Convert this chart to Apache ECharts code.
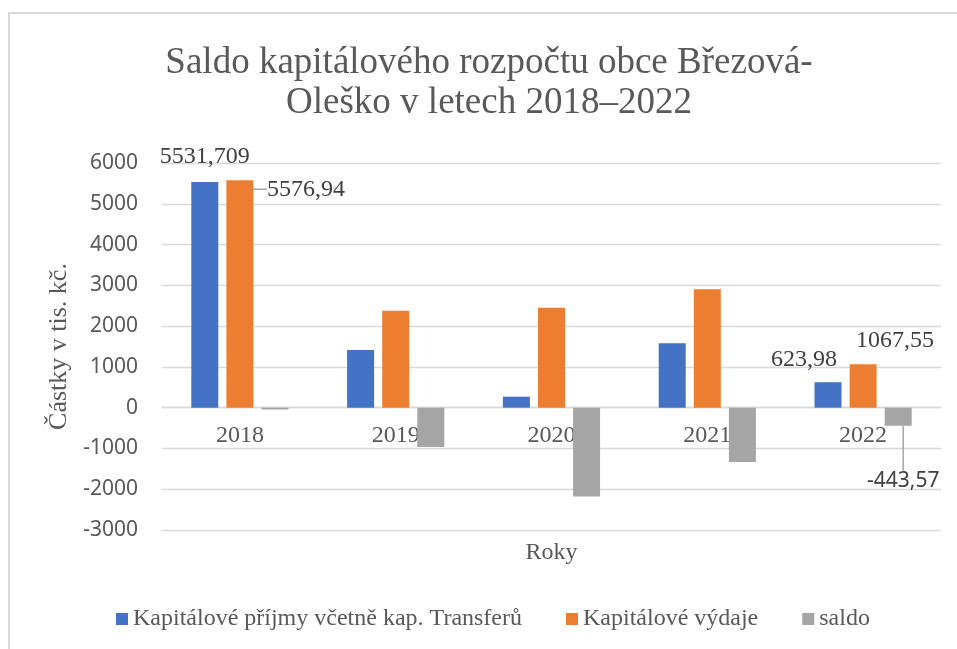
<!DOCTYPE html>
<html>
<head>
<meta charset="utf-8">
<script src="https://cdn.jsdelivr.net/npm/echarts@6/dist/echarts.min.js"></script>
<style>
  html, body { margin: 0; padding: 0; background: #fff; }
  #chart { width: 957px; height: 649px; }
</style>
</head>
<body>
<div id="chart"></div>
<script>
// data (tis. Kč)
const years = ['2018', '2019', '2020', '2021', '2022']
const prijmy = [5531.709, 1414, 270, 1578, 623.98]
const vydaje = [5576.94, 2378, 2451, 2905, 1067.55]
const saldo = [-45.23, -964, -2181, -1330, -443.57]
const yTicks = { min: -3000, max: 6000, step: 1000 }

const serif = 'Liberation Serif'
const sans = 'Noto Sans'
const grey = '#595959'

const gridTop = 163
const gridBottom = 119
const plotHeight = 649 - gridTop - gridBottom
// category axis sits on the zero line (onZero does not kick in here, so shift it)
const zeroOffset = -((0 - yTicks.min) / (yTicks.max - yTicks.min)) * plotHeight

const fmt = (p) => String(p.value).replace('.', ',')

const labelBase = {
  show: true,
  fontFamily: serif,
  fontSize: 24,
  color: '#404040',
  formatter: fmt,
}
const leader = { show: true, lineStyle: { color: '#A6A6A6', width: 1.5 } }

// labels only on some bars, like in the original
const prijmyData = prijmy.map((v, i) => {
  if (i === 0) return { value: v, label: { ...labelBase, position: 'top', offset: [0, -8] } }
  if (i === 4) return { value: v, label: { ...labelBase, position: 'top', offset: [-24, -6] } }
  return v
})
const vydajeData = vydaje.map((v, i) => {
  if (i === 0) return { value: v, label: { ...labelBase, position: 'top' }, labelLine: leader }
  if (i === 4) return { value: v, label: { ...labelBase, position: 'top' } }
  return v
})
const saldoData = saldo.map((v, i) => {
  if (i === 4) {
    return {
      value: v,
      label: { ...labelBase, fontFamily: sans, fontSize: 21, position: 'bottom' },
      labelLine: leader,
    }
  }
  return v
})

// label shifts per data index
const moveLabels = (moves) => (params) => moves[params.dataIndex] || {}

const chart = echarts.init(document.getElementById('chart'))

chart.setOption({
  animation: false,
  color: ['#4472C4', '#ED7D31', '#A5A5A5'],
  title: {
    text: 'Saldo kapitálového rozpočtu obce Březová-\nOleško v letech 2018–2022',
    left: 489,
    top: 43,
    padding: 0,
    textAlign: 'center',
    textStyle: {
      fontFamily: serif,
      fontSize: 37,
      fontWeight: 'normal',
      lineHeight: 40,
      color: grey,
    },
  },
  legend: {
    left: 116,
    top: 607,
    padding: 0,
    icon: 'rect',
    itemWidth: 12,
    itemHeight: 12,
    itemGap: 44,
    textStyle: { fontFamily: serif, fontSize: 24, color: grey },
  },
  grid: {
    left: 162,
    right: 16,
    top: gridTop,
    bottom: gridBottom,
    outerBoundsMode: 'none',
    containLabel: false,
  },
  xAxis: {
    type: 'category',
    data: years,
    offset: zeroOffset,
    name: 'Roky',
    nameLocation: 'middle',
    nameGap: 133,
    nameTextStyle: { fontFamily: serif, fontSize: 24, color: grey },
    axisLine: { onZero: false, lineStyle: { color: '#D9D9D9', width: 1.3 } },
    axisTick: { show: false },
    axisLabel: { fontFamily: serif, fontSize: 24, color: grey, margin: 16 },
  },
  yAxis: {
    type: 'value',
    min: yTicks.min,
    max: yTicks.max,
    interval: yTicks.step,
    name: 'Částky v tis. kč.',
    nameLocation: 'middle',
    nameGap: 90,
    nameTextStyle: { fontFamily: serif, fontSize: 26, color: grey },
    axisLabel: {
      fontFamily: sans,
      fontSize: 21,
      color: grey,
      margin: 24,
      formatter: (v) => String(v),
    },
    splitLine: { lineStyle: { color: '#D9D9D9', width: 1.3 } },
  },
  series: [
    {
      name: 'Kapitálové příjmy včetně kap. Transferů',
      type: 'bar',
      data: prijmyData,
      barWidth: 27,
      barGap: '30%',
    },
    {
      name: 'Kapitálové výdaje',
      type: 'bar',
      data: vydajeData,
      barWidth: 27,
      barGap: '30%',
      labelLayout: moveLabels({ 0: { dx: 66, dy: 26 }, 4: { dx: 32, dy: -6 } }),
    },
    {
      name: 'saldo',
      type: 'bar',
      data: saldoData,
      barWidth: 27,
      barGap: '30%',
      labelLayout: moveLabels({ 4: { dx: 5, dy: 40 } }),
    },
  ],
  graphic: [
    {
      type: 'rect',
      shape: { x: 9, y: 13, width: 1000, height: 700 },
      style: { fill: 'none', stroke: '#D9D9D9', lineWidth: 2 },
      silent: true,
    },
  ],
})
</script>
</body>
</html>
